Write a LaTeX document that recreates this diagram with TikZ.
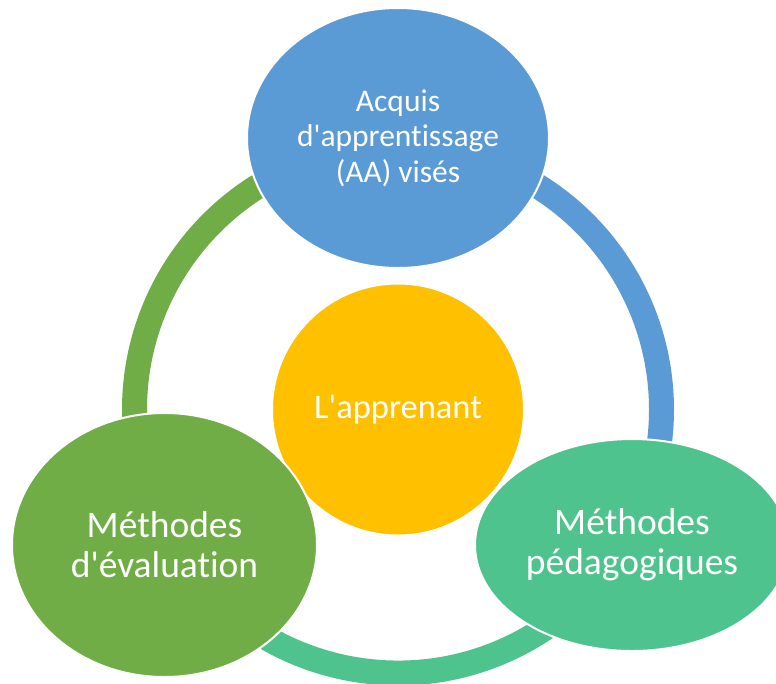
\documentclass[tikz,border=0pt]{standalone}
\usepackage{fontspec}
\setmainfont{Carlito}[Ligatures=CommonOff]
\usepackage{tikz}
\usetikzlibrary{shapes.geometric}

\definecolor{aablue}{HTML}{5B9BD5}
\definecolor{evalgreen}{HTML}{70AD47}
\definecolor{pedateal}{HTML}{4FC38D}
\definecolor{learnyellow}{HTML}{FFC000}

\begin{document}
\begin{tikzpicture}[x=1pt, y=-1pt, node distance={135.5pt},
                    main/.style = {ellipse, draw=white, line width=2pt, inner sep=0pt, text=white, align=center},
                    bluenode/.style={main, fill=aablue, minimum width=302pt, minimum height=260pt, font=\fontsize{31.5}{35.5}\selectfont},
                    yellownode/.style={main, circle, fill=learnyellow, minimum size=252pt, font=\fontsize{34.5}{38}\selectfont},
                    greennode/.style={main, fill=evalgreen, minimum width=305pt, minimum height=264pt, font=\fontsize{37.5}{40}\selectfont},
                    tealnode/.style={main, fill=pedateal, minimum width=314pt, minimum height=212pt, font=\fontsize{37.5}{40}\selectfont},
                    cyclearc/.style={line width=25pt}]
        \useasboundingbox (0,0) rectangle (776,683);
        \coordinate (hub) at (398,409.5);
        % ring behind the bubbles
        \draw[cyclearc, evalgreen] (hub) ++(-90:263.5) arc[start angle=-90, end angle=-185, radius=263.5];
        \draw[cyclearc, aablue] (hub) ++(-90:263.5) arc[start angle=-90, end angle=10, radius=263.5];
        \draw[cyclearc, pedateal] (hub) ++(10:263.5) arc[start angle=10, end angle=150, radius=263.5];
        \node[yellownode] (apprenant) at (hub) {L\textquotesingle apprenant};
        \node[bluenode] (aa) [above of=apprenant, yshift=136pt] {Acquis\\d\textquotesingle apprentissage\\(AA) visés};
        \node[greennode] (eval) [below of=apprenant, xshift=-233.5pt] {Méthodes\\d\textquotesingle évaluation};
        \node[tealnode] (peda) [below of=apprenant, xshift=234pt] {Méthodes\\pédagogiques};
    \end{tikzpicture}
\end{document}
